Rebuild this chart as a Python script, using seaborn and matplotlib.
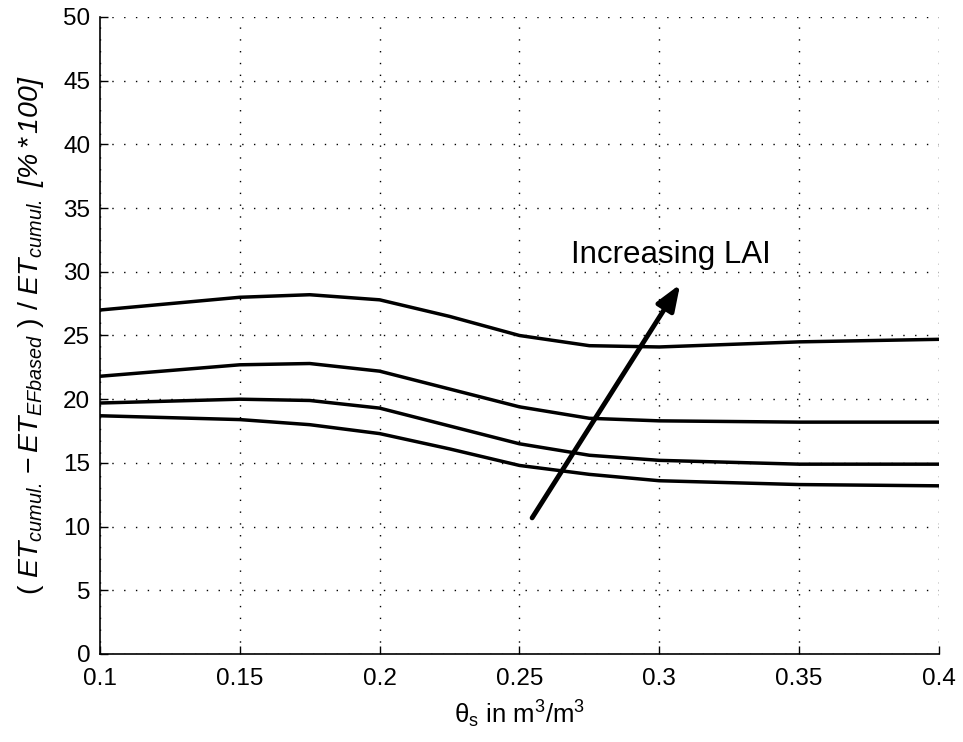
import numpy as np
import pandas as pd
import matplotlib
matplotlib.use("Agg")
import matplotlib.pyplot as plt
import seaborn as sns

theta_s = [0.10, 0.125, 0.15, 0.175, 0.20, 0.225, 0.25, 0.275, 0.30, 0.35, 0.40]
lai_1 = [18.7, 18.55, 18.4, 18.0, 17.3, 16.1, 14.8, 14.1, 13.6, 13.3, 13.2]
lai_2 = [19.7, 19.85, 20.0, 19.9, 19.3, 17.9, 16.5, 15.6, 15.2, 14.9, 14.9]
lai_3 = [21.8, 22.25, 22.7, 22.8, 22.2, 20.8, 19.4, 18.5, 18.3, 18.2, 18.2]
lai_4 = [27.0, 27.5, 28.0, 28.2, 27.8, 26.5, 25.0, 24.2, 24.1, 24.5, 24.7]
series_names = ["LAI 1", "LAI 2", "LAI 3", "LAI 4"]

xticks = [0.1, 0.15, 0.2, 0.25, 0.3, 0.35, 0.4]
xtick_labels = ["0.1", "0.15", "0.2", "0.25", "0.3", "0.35", "0.4"]
yticks = [0, 5, 10, 15, 20, 25, 30, 35, 40, 45, 50]

arrow_tail = (0.254, 10.5)
arrow_head = (0.308, 29.2)
annot_text = "Increasing LAI"
annot_pos = (0.304, 31.3)

sns.set_theme(style="white")
plt.rcParams["font.family"] = ["Liberation Sans", "DejaVu Sans"]
plt.rcParams["mathtext.fontset"] = "custom"
plt.rcParams["mathtext.rm"] = "Liberation Sans"
plt.rcParams["mathtext.it"] = "Liberation Sans:italic"
plt.rcParams["mathtext.sf"] = "Liberation Sans:italic"
plt.rcParams["mathtext.bf"] = "Liberation Sans:bold"
for k in ["text.color", "axes.labelcolor", "xtick.color", "ytick.color"]:
    plt.rcParams[k] = "black"

df = pd.DataFrame({
    "theta": theta_s * 4,
    "value": lai_1 + lai_2 + lai_3 + lai_4,
    "series": sum([[n] * len(theta_s) for n in series_names], []),
})

fig = plt.figure(figsize=(9.63, 7.42), dpi=100)
ax = fig.add_axes([0.1038, 0.1186, 0.8712, 0.8585])

sns.lineplot(data=df, x="theta", y="value", hue="series",
             palette=["black"] * 4, linewidth=2.5, legend=False, ax=ax)

ax.set_xlim(0.1, 0.4)
ax.set_ylim(0, 50)
ax.set_xticks(xticks)
ax.set_xticklabels(xtick_labels)
ax.set_yticks(yticks)
ax.grid(True, color="black", linestyle=(0, (1, 7.5)), linewidth=1.0)
for s in ["top", "right"]:
    ax.spines[s].set_visible(False)
for s in ["left", "bottom"]:
    ax.spines[s].set_color("black")
    ax.spines[s].set_linewidth(1.2)
ax.tick_params(axis="both", direction="in", length=6, width=1, colors="black",
               labelsize=17.5, left=True, bottom=True)
ax.tick_params(axis="x", pad=10)
ax.tick_params(axis="y", pad=7)

ax.set_xlabel(r"θ$_{\mathrm{s}}$ in m$^{3}$/m$^{3}$", fontsize=18.5, labelpad=6)
ax.set_ylabel(r"$(\ ET_{\mathsf{cumul.}}-ET_{EFbased}\ )\ /\ ET_{\mathsf{cumul.}}\ \mathsf{[\%*100]}$",
              fontsize=20.5, labelpad=12)

ax.annotate("", xy=arrow_head, xytext=arrow_tail,
            arrowprops=dict(arrowstyle="-|>,head_length=1.3,head_width=0.5",
                            color="black", lw=3.5))
ax.text(annot_pos[0], annot_pos[1], annot_text, fontsize=22.5, ha="center", va="center")

fig.savefig("out.png", dpi=100, facecolor="white")
